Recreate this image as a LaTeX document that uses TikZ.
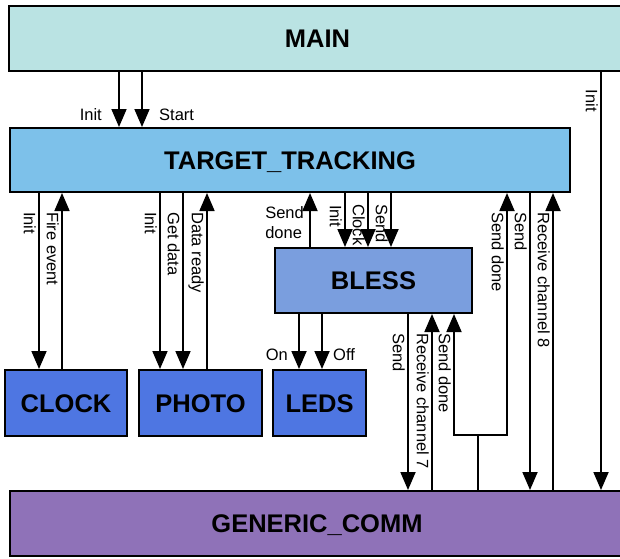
\documentclass[tikz,border=0pt]{standalone}
\usepackage{fontspec}
\setmainfont{Liberation Sans}
\usetikzlibrary{positioning,arrows.meta}
\definecolor{mainc}{RGB}{186,227,227}
\definecolor{trackc}{RGB}{125,193,234}
\definecolor{blessc}{RGB}{122,158,222}
\definecolor{leafc}{RGB}{78,118,226}
\definecolor{commc}{RGB}{143,114,184}

\begin{document}
\begin{tikzpicture}[x=1pt, y=-1pt, >={Triangle[length=18pt,width=15pt]},
    mod/.style={rectangle, draw=black, line width=2pt, inner sep=0pt, minimum height=65pt, text height=18pt, text depth=0pt, font=\bfseries\fontsize{25.5}{30}\selectfont},
    lnk/.style={line width=1.8pt},
    vlab/.style={rotate=-90, anchor=north west, inner sep=0pt, font=\fontsize{16.5}{20}\selectfont},
    hlab/.style={inner sep=0pt, font=\fontsize{16.5}{20}\selectfont}]
          \useasboundingbox (0,0) rectangle (620,558);
          \clip (0,0) rectangle (620,558);

          \node[mod, fill=mainc, minimum width=617pt] (main) at (317.5,38) {MAIN};
          \node[mod, fill=trackc, minimum width=560pt, minimum height=64pt] (tt) at (290,160) {TARGET\_TRACKING};
          \node[mod, fill=blessc, minimum width=197pt] (bless) at (373.5,280.5) {BLESS};
          \node[mod, fill=leafc, minimum width=122pt, minimum height=66pt] (clock) at (66,403) {CLOCK};
          \node[mod, fill=leafc, minimum width=123pt, minimum height=66pt] (photo) [right=10pt of clock] {PHOTO};
          \node[mod, fill=leafc, minimum width=93pt, minimum height=66pt] (leds) [right=9pt of photo] {LEDS};
          \node[mod, fill=commc, minimum width=614pt] (gc) at (317,523.5) {GENERIC\_COMM};

          % main
          \draw[lnk,->] ([xshift=111pt]main.south west) coordinate (m1) -- (m1 |- tt.north);
          \draw[lnk,->] ([xshift=134pt]main.south west) coordinate (m2) -- (m2 |- tt.north);
          \draw[lnk,->] ([xshift=593pt]main.south west) coordinate (m3) -- (m3 |- gc.north);
          \node[hlab, anchor=east] at ([shift={(-17,43)}]m1) {Init};
          \node[hlab, anchor=west] at ([shift={(17,43)}]m2) {Start};
          \node[vlab] at ([shift={(-3,18)}]m3) {Init};

          % clock and photo
          \draw[lnk,->] ([xshift=30pt]tt.south west) coordinate (a1) -- (a1 |- clock.north);
          \draw[lnk,<-] ([xshift=53pt]tt.south west) coordinate (a2) -- (a2 |- clock.north);
          \draw[lnk,->] ([xshift=151pt]tt.south west) coordinate (a3) -- (a3 |- photo.north);
          \draw[lnk,->] ([xshift=174pt]tt.south west) coordinate (a4) -- (a4 |- photo.north);
          \draw[lnk,<-] ([xshift=198pt]tt.south west) coordinate (a5) -- (a5 |- photo.north);
          \node[vlab] at ([shift={(-3,19)}]a1) {Init};
          \node[vlab] at ([shift={(-3,19)}]a2) {Fire event};
          \node[vlab] at ([shift={(-3,19)}]a3) {Init};
          \node[vlab] at ([shift={(-3,19)}]a4) {Get data};
          \node[vlab] at ([shift={(-3,19)}]a5) {Data ready};

          % bless
          \draw[lnk,<-] ([xshift=301pt]tt.south west) coordinate (b1) -- (b1 |- bless.north);
          \draw[lnk,->] ([xshift=336pt]tt.south west) coordinate (b2) -- (b2 |- bless.north);
          \draw[lnk,->] ([xshift=359pt]tt.south west) coordinate (b3) -- (b3 |- bless.north);
          \draw[lnk,->] ([xshift=382pt]tt.south west) coordinate (b4) -- (b4 |- bless.north);
          \node[hlab, align=left, anchor=south east] at ([shift={(-6,46)}]b1) {Send\\done};
          \node[vlab] at ([shift={(-3,12)}]b2) {Init};
          \node[vlab] at ([shift={(-3,11)}]b3) {Clock};
          \node[vlab] at ([shift={(-3,11)}]b4) {Send};

          % leds
          \draw[lnk,->] ([xshift=25pt]bless.south west) coordinate (d1) -- (d1 |- leds.north);
          \draw[lnk,->] ([xshift=48pt]bless.south west) coordinate (d2) -- (d2 |- leds.north);
          \node[hlab, anchor=east] at ([shift={(-11,41)}]d1) {On};
          \node[hlab, anchor=west] at ([shift={(11,41)}]d2) {Off};

          % generic_comm
          \draw[lnk,->] ([xshift=134pt]bless.south west) coordinate (d3) -- (d3 |- gc.north);
          \draw[lnk,<-] ([xshift=158pt]bless.south west) coordinate (d4) -- (d4 |- gc.north);
          \draw[lnk] ([xshift=469pt]gc.north west) coordinate (g1) -- ++(0,-55) coordinate (g2);
          \draw[lnk,->] (g2) -| ([xshift=180pt]bless.south west) coordinate (d5);
          \draw[lnk,->] (g2) -| ([xshift=498pt]tt.south west) coordinate (c1);
          \draw[lnk,->] ([xshift=521pt]tt.south west) coordinate (c2) -- (c2 |- gc.north);
          \draw[lnk,<-] ([xshift=544pt]tt.south west) coordinate (c3) -- (c3 |- gc.north);
          \node[vlab] at ([shift={(-3,19)}]d3) {Send};
          \node[vlab] at ([shift={(-3,19)}]d4) {Receive channel 7};
          \node[vlab] at ([shift={(-3,19)}]d5) {Send done};
          \node[vlab] at ([shift={(-3,19)}]c1) {Send done};
          \node[vlab] at ([shift={(-3,19)}]c2) {Send};
          \node[vlab] at ([shift={(-3,19)}]c3) {Receive channel 8};
        \end{tikzpicture}
\end{document}
